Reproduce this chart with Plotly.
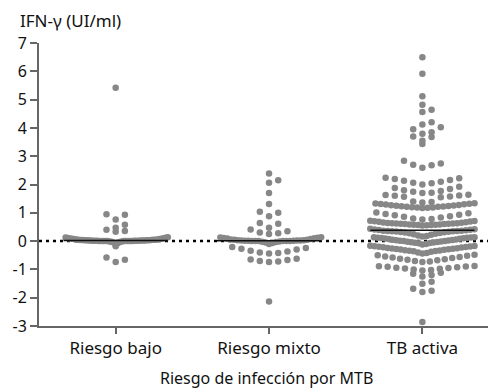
import math
import numpy as np
import plotly.graph_objects as go

categories = ["Riesgo bajo", "Riesgo mixto", "TB activa"]

riesgo_bajo = [
    5.42, 0.95, 0.93, 0.76, 0.58, 0.47, 0.40, 0.36, 0.33,
    -0.12, -0.08, -0.05, -0.03, -0.02, -0.01, -0.01,
    0.00, 0.00, 0.00, 0.00, 0.00, 0.00, 0.00, 0.00, 0.00, 0.00,
    0.01, 0.01, 0.01, 0.01, 0.01, 0.01,
    0.02, 0.02, 0.02, 0.02, 0.02,
    0.03, 0.03, 0.03, 0.03,
    0.04, 0.04, 0.04, 0.05, 0.05, 0.05,
    0.06, 0.06, 0.07, 0.07, 0.08, 0.08,
    0.09, 0.10, 0.11, 0.12, 0.13, 0.14,
    -0.18, -0.58, -0.66, -0.74,
]

riesgo_mixto = [
    2.39, 2.15, 2.06, 1.70, 1.31, 1.04, 1.00, 0.88, 0.64, 0.61, 0.47,
    0.41, 0.35, 0.30, 0.28, 0.25,
    -0.10, -0.07, -0.05, -0.03, -0.02, -0.01,
    0.00, 0.00, 0.00, 0.00, 0.00, 0.00,
    0.01, 0.01, 0.01, 0.02, 0.02, 0.02, 0.03, 0.03,
    0.05, 0.05, 0.06, 0.07, 0.09, 0.10, 0.11, 0.12, 0.13, 0.14,
    -0.44, -0.42, -0.40, -0.37, -0.34, -0.30, -0.27, -0.24, -0.21,
    -0.74, -0.72, -0.70, -0.67, -0.65, -0.62,
    -2.13,
]

tb_activa = [
    6.50, 5.91, 5.12, 4.82, 4.64, 4.56, 4.20, 4.12, 4.02, 3.95, 3.85, 3.79,
    3.70, 3.68, 3.55, 3.43,
    2.84, 2.74, 2.70, 2.68, 2.59,
    2.24, 2.22, 2.19, 2.16, 2.13, 2.10, 2.06, 2.04, 2.00,
    1.92, 1.88, 1.84, 1.80, 1.77, 1.74, 1.71, 1.70,
    1.64, 1.63, 1.61, 1.60, 1.58, 1.57, 1.55, 1.40, 1.38, 1.36,
    1.34, 1.33, 1.32, 1.31, 1.30, 1.29, 1.28, 1.27, 1.26, 1.25,
    1.24, 1.23, 1.22, 1.21, 1.21, 1.20, 1.19, 1.19, 1.18, 1.17,
    1.01, 0.98, 0.96, 0.93, 0.91, 0.88, 0.86, 0.83, 0.80, 0.78, 0.76,
    0.72, 0.71, 0.70, 0.69, 0.68, 0.67, 0.66, 0.65, 0.64, 0.63, 0.63,
    0.62, 0.62, 0.61, 0.61, 0.60, 0.60, 0.59, 0.59, 0.58, 0.58, 0.57,
    0.57, 0.56, 0.55,
    0.44, 0.42, 0.41, 0.40, 0.39, 0.38, 0.37, 0.37, 0.36, 0.36, 0.35,
    0.35, 0.34, 0.33, 0.32, 0.31, 0.30, 0.29, 0.28, 0.26, 0.24, 0.22,
    0.20, 0.18, 0.16,
    0.14, 0.14, 0.13, 0.12, 0.12, 0.11, 0.10, 0.09, 0.08, 0.07, 0.06,
    0.05, 0.04, 0.03, 0.02, 0.01, 0.00, 0.00, -0.01, -0.02, -0.03, -0.04,
    -0.05, -0.06, -0.07, -0.08, -0.10, -0.12,
    -0.16, -0.17, -0.18, -0.19, -0.20, -0.21, -0.22, -0.23, -0.24, -0.25,
    -0.26, -0.27, -0.28, -0.29, -0.30, -0.31, -0.32, -0.33, -0.34, -0.35,
    -0.36, -0.38, -0.40, -0.42, -0.44,
    -0.48, -0.50, -0.52, -0.54, -0.56, -0.58, -0.60, -0.62, -0.64, -0.66,
    -0.68, -0.70, -0.72, -0.74,
    -0.88, -0.89, -0.90, -0.91, -0.92, -0.94, -0.95, -0.97, -0.98, -1.00,
    -1.02, -1.04,
    -1.12, -1.15, -1.20, -1.25,
    -1.44, -1.51,
    -1.68, -1.75, -1.80,
    -2.86,
]

y_tick_values = [-3, -2, -1, 0, 1, 2, 3, 4, 5, 6, 7]
y_tick_labels = ["-3", "-2", "-1", "0", "1", "2", "3", "4", "5", "6", "7"]

y_title = "IFN-γ (UI/ml)"
x_title = "Riesgo de infección por MTB"

# --- beeswarm layout (Prism-like binned scatter) ---
BIN_H = 0.3      # row height in data units
STEP = 0.06      # horizontal spacing between dots (category units)
HALF_MAX = 0.34  # maximum half-width of a row (category units)


def swarm(values, center):
    bins = {}
    for v in values:
        k = int(math.floor(v / BIN_H + 0.5))
        bins.setdefault(k, []).append(v)
    xs, ys = [], []
    for k in sorted(bins):
        vs = sorted(bins[k])
        n = len(vs)
        ext = math.ceil((n - 1) / 2)
        s = STEP
        if ext > 0 and ext * s > HALF_MAX:
            s = HALF_MAX / ext
        for i, v in enumerate(vs):
            m = (i + 1) // 2
            sign = 1 if i % 2 == 1 else -1
            xs.append(center + sign * m * s)
            ys.append(v)
    return xs, ys


groups = [riesgo_bajo, riesgo_mixto, tb_activa]
DOT_COLOR = "#878787"
FONT = "'Noto Sans', Lato, Arial, sans-serif"

# page body has an 8px default margin: figure sits at (8, 8)
PLOT_W, PLOT_H = 457, 283

fig = go.Figure()

for i, vals in enumerate(groups):
    xs, ys = swarm(vals, i)
    fig.add_trace(go.Scatter(
        x=xs, y=ys, mode="markers",
        marker=dict(size=6.5, color=DOT_COLOR, line=dict(width=0)),
        hoverinfo="skip", showlegend=False, cliponaxis=False,
    ))

for i, vals in enumerate(groups):
    med = float(np.median(vals))
    fig.add_trace(go.Scatter(
        x=[i - HALF_MAX, i + HALF_MAX], y=[med, med], mode="lines",
        line=dict(color="#111111", width=1.6),
        hoverinfo="skip", showlegend=False,
    ))

fig.add_shape(type="line", xref="paper", yref="y", x0=0, x1=1, y0=0, y1=0,
              line=dict(color="#000000", width=2.5, dash="3px,4px"),
              layer="below")

fig.add_annotation(text=y_title, xref="paper", yref="paper",
                   x=-21 / PLOT_W, y=1 + 22 / PLOT_H, xanchor="left", yanchor="middle",
                   showarrow=False, font=dict(family=FONT, size=17, color="#111"))
fig.add_annotation(text=x_title, xref="paper", yref="paper",
                   x=(227 / PLOT_W), y=-52 / PLOT_H, xanchor="center", yanchor="middle",
                   showarrow=False, font=dict(family=FONT, size=16, color="#111"))

axis_col = "#666666"
fig.update_layout(
    width=488, height=383,
    margin=dict(l=31, r=0, t=35, b=65),
    paper_bgcolor="white", plot_bgcolor="white",
    font=dict(family=FONT, size=16, color="#111"),
    xaxis=dict(
        range=[-0.5, 2.48], tickvals=[0, 1, 2], ticktext=categories,
        showline=True, linecolor=axis_col, linewidth=2,
        ticks="outside", ticklen=6, tickwidth=1.8, tickcolor=axis_col,
        showgrid=False, zeroline=False, tickfont=dict(size=17),
    ),
    yaxis=dict(
        range=[-3, 7], tickvals=y_tick_values, ticktext=y_tick_labels,
        showline=True, linecolor=axis_col, linewidth=2,
        ticks="outside", ticklen=7, tickwidth=1.8, tickcolor=axis_col,
        showgrid=False, zeroline=False, tickfont=dict(size=16),
    ),
)

fig.write_html("out.html")
